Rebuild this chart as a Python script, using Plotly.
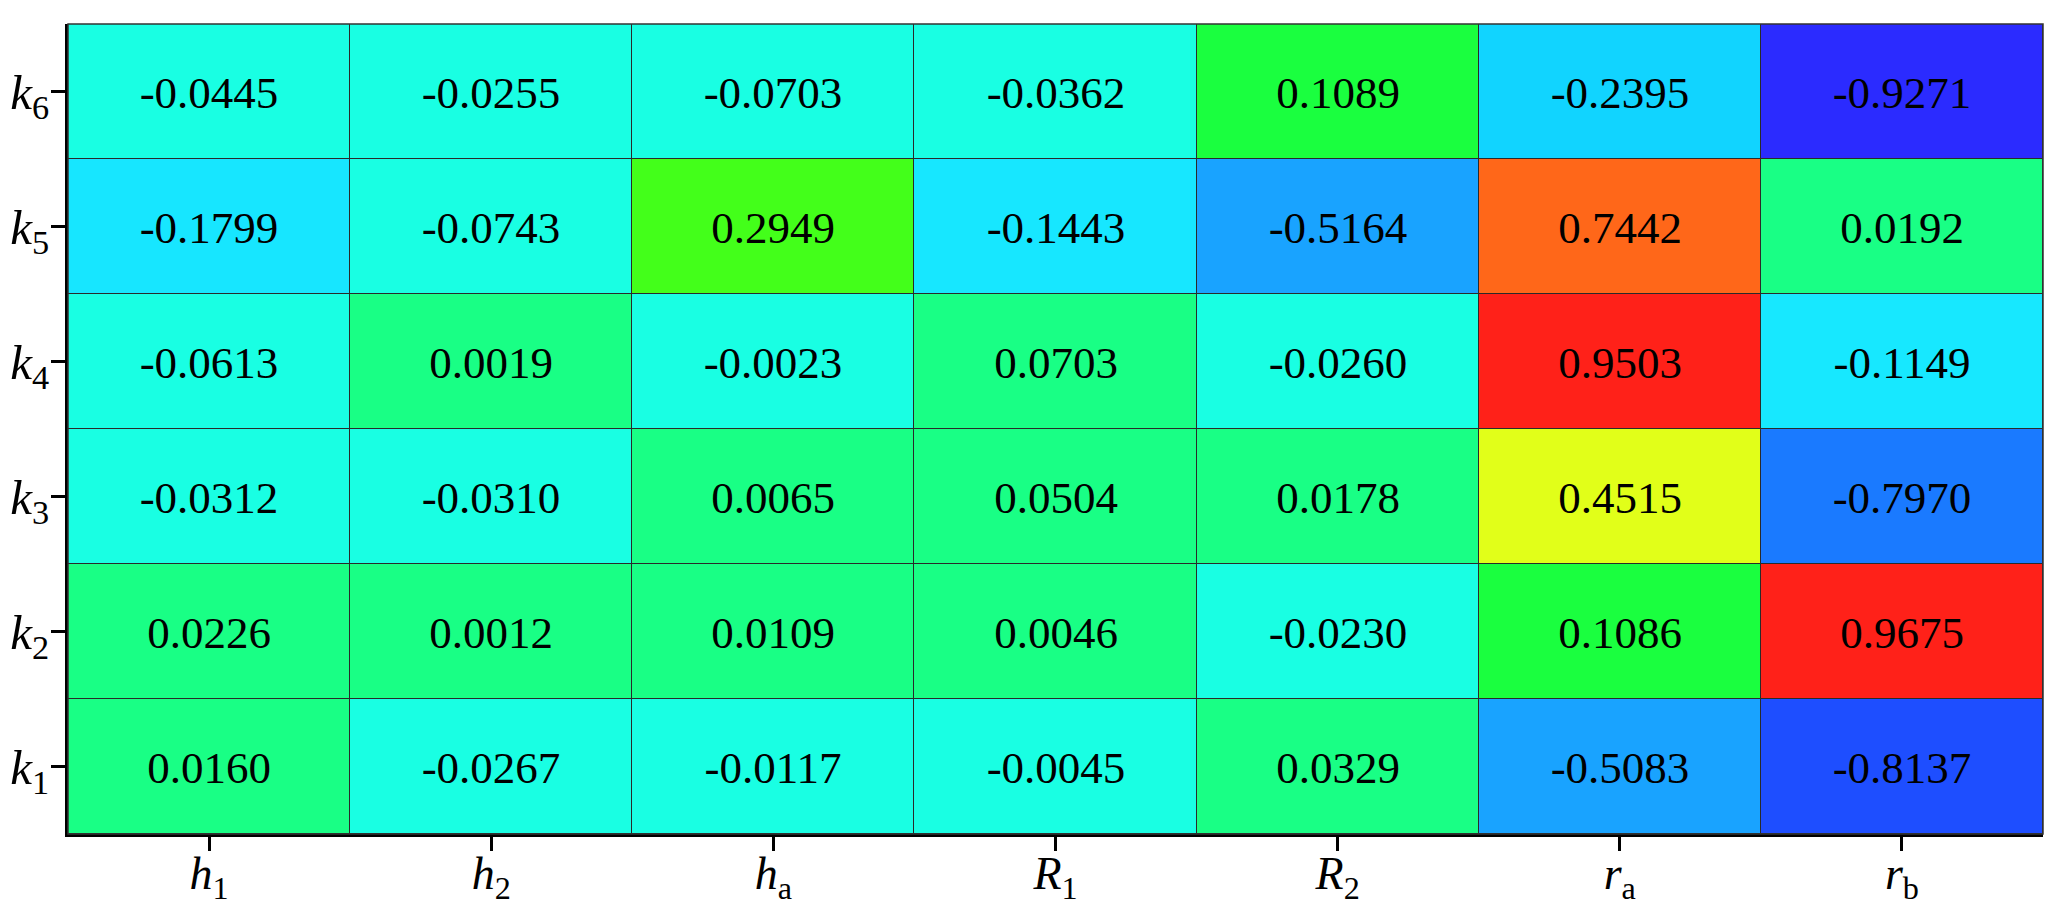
import plotly.graph_objects as go

# Column (parameter) labels and row (factor) labels
columns = ["<i>h</i><sub>1</sub>", "<i>h</i><sub>2</sub>", "<i>h</i><sub>a</sub>",
           "<i>R</i><sub>1</sub>", "<i>R</i><sub>2</sub>", "<i>r</i><sub>a</sub>",
           "<i>r</i><sub>b</sub>"]
rows = ["<i>k</i><sub>1</sub>", "<i>k</i><sub>2</sub>", "<i>k</i><sub>3</sub>",
        "<i>k</i><sub>4</sub>", "<i>k</i><sub>5</sub>", "<i>k</i><sub>6</sub>"]

# Values per row (k1 .. k6), columns h1, h2, ha, R1, R2, ra, rb
k1 = [0.0160, -0.0267, -0.0117, -0.0045, 0.0329, -0.5083, -0.8137]
k2 = [0.0226, 0.0012, 0.0109, 0.0046, -0.0230, 0.1086, 0.9675]
k3 = [-0.0312, -0.0310, 0.0065, 0.0504, 0.0178, 0.4515, -0.7970]
k4 = [-0.0613, 0.0019, -0.0023, 0.0703, -0.0260, 0.9503, -0.1149]
k5 = [-0.1799, -0.0743, 0.2949, -0.1443, -0.5164, 0.7442, 0.0192]
k6 = [-0.0445, -0.0255, -0.0703, -0.0362, 0.1089, -0.2395, -0.9271]

z = [k1, k2, k3, k4, k5, k6]

colorscale = [
    [0.0, "#2B2BFF"],
    [0.0365, "#2B2BFF"],
    [0.093, "#1E4DFF"],
    [0.1015, "#1A7AFF"],
    [0.242, "#19A3FF"],
    [0.246, "#19A3FF"],
    [0.380, "#11D4FF"],
    [0.410, "#17E6FF"],
    [0.443, "#17E8FF"],
    [0.455, "#19FFE3"],
    [0.4999, "#19FFE3"],
    [0.5, "#19FF85"],
    [0.536, "#19FF85"],
    [0.554, "#1AFF3F"],
    [0.6475, "#43FF1A"],
    [0.7258, "#E1FF19"],
    [0.8721, "#FF6719"],
    [0.975, "#FF2119"],
    [1.0, "#FF2119"],
]

fig = go.Figure(go.Heatmap(
    z=z, x=columns, y=rows,
    zmin=-1, zmax=1,
    colorscale=colorscale,
    showscale=False,
    xgap=1, ygap=1,
    texttemplate="%{z:.4f}",
    textfont=dict(family="Liberation Serif", size=45, color="black"),
))

# page body has an 8px default margin: size the figure to fit the window
fig.update_layout(
    width=2051, height=898,
    margin=dict(l=60, r=16, t=16, b=72),
    paper_bgcolor="white",
    plot_bgcolor="#2a2a2a",
    font=dict(family="Liberation Serif", color="black"),
)

fig.update_xaxes(
    automargin=False,
    showline=True, linecolor="black", linewidth=3,
    ticks="outside", ticklen=14, tickwidth=3, tickcolor="black",
    tickfont=dict(size=46, family="Liberation Serif"),
    ticklabelstandoff=-17,
    showgrid=False, zeroline=False,
)
fig.update_yaxes(
    automargin=False,
    showline=True, linecolor="black", linewidth=3,
    ticks="outside", ticklen=14, tickwidth=3, tickcolor="black",
    tickfont=dict(size=49, family="Liberation Serif"),
    ticklabelstandoff=-8,
    showgrid=False, zeroline=False,
)

fig.add_shape(type="rect", xref="x domain", yref="y domain",
              x0=0, x1=1, y0=0, y1=1,
              line=dict(color="#333333", width=1.5), layer="above")

fig.write_html("out.html")
